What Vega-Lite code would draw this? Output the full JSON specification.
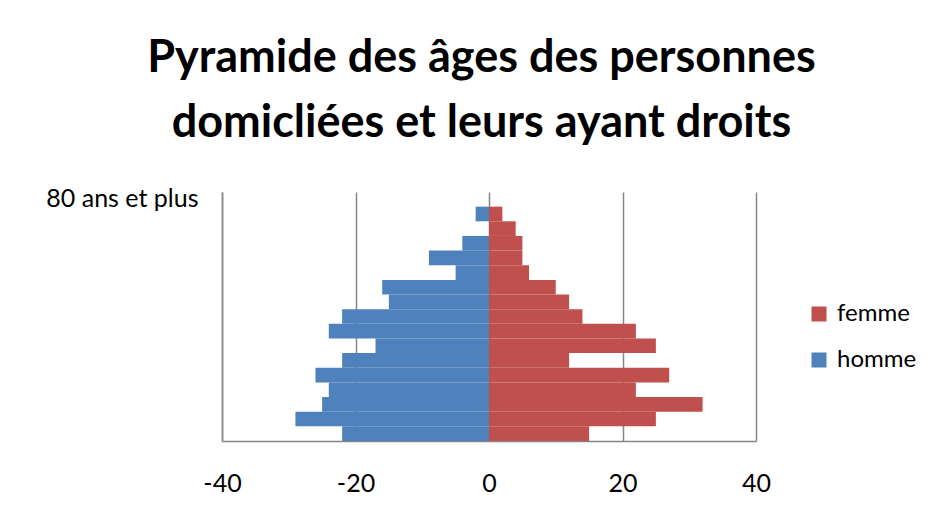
{
  "$schema": "https://vega.github.io/schema/vega-lite/v6.json",
  "width": 534,
  "height": 249,
  "autosize": {"type": "none"},
  "padding": {"left": 222, "top": 192, "right": 179, "bottom": 87},
  "background": "white",
  "title": {
    "text": ["Pyramide des âges des personnes", "domicliées et leurs ayant droits"],
    "font": "Lato",
    "fontSize": 45,
    "fontWeight": "bold",
    "color": "black",
    "lineHeight": 65,
    "anchor": "middle",
    "frame": "bounds",
    "offset": 41
  },
  "data": {
    "values": [
      {"age": "0 à 4 ans", "sexe": "homme", "valeur": -22},
      {"age": "0 à 4 ans", "sexe": "femme", "valeur": 15},
      {"age": "5 à 9 ans", "sexe": "homme", "valeur": -29},
      {"age": "5 à 9 ans", "sexe": "femme", "valeur": 25},
      {"age": "10 à 14 ans", "sexe": "homme", "valeur": -25},
      {"age": "10 à 14 ans", "sexe": "femme", "valeur": 32},
      {"age": "15 à 19 ans", "sexe": "homme", "valeur": -24},
      {"age": "15 à 19 ans", "sexe": "femme", "valeur": 22},
      {"age": "20 à 24 ans", "sexe": "homme", "valeur": -26},
      {"age": "20 à 24 ans", "sexe": "femme", "valeur": 27},
      {"age": "25 à 29 ans", "sexe": "homme", "valeur": -22},
      {"age": "25 à 29 ans", "sexe": "femme", "valeur": 12},
      {"age": "30 à 34 ans", "sexe": "homme", "valeur": -17},
      {"age": "30 à 34 ans", "sexe": "femme", "valeur": 25},
      {"age": "35 à 39 ans", "sexe": "homme", "valeur": -24},
      {"age": "35 à 39 ans", "sexe": "femme", "valeur": 22},
      {"age": "40 à 44 ans", "sexe": "homme", "valeur": -22},
      {"age": "40 à 44 ans", "sexe": "femme", "valeur": 14},
      {"age": "45 à 49 ans", "sexe": "homme", "valeur": -15},
      {"age": "45 à 49 ans", "sexe": "femme", "valeur": 12},
      {"age": "50 à 54 ans", "sexe": "homme", "valeur": -16},
      {"age": "50 à 54 ans", "sexe": "femme", "valeur": 10},
      {"age": "55 à 59 ans", "sexe": "homme", "valeur": -5},
      {"age": "55 à 59 ans", "sexe": "femme", "valeur": 6},
      {"age": "60 à 64 ans", "sexe": "homme", "valeur": -9},
      {"age": "60 à 64 ans", "sexe": "femme", "valeur": 5},
      {"age": "65 à 69 ans", "sexe": "homme", "valeur": -4},
      {"age": "65 à 69 ans", "sexe": "femme", "valeur": 5},
      {"age": "70 à 74 ans", "sexe": "homme", "valeur": 0},
      {"age": "70 à 74 ans", "sexe": "femme", "valeur": 4},
      {"age": "75 à 79 ans", "sexe": "homme", "valeur": -2},
      {"age": "75 à 79 ans", "sexe": "femme", "valeur": 2},
      {"age": "80 ans et plus", "sexe": "homme", "valeur": 0},
      {"age": "80 ans et plus", "sexe": "femme", "valeur": 0}
    ]
  },
  "mark": {"type": "bar"},
  "encoding": {
    "y": {
      "field": "age",
      "type": "nominal",
      "sort": ["80 ans et plus", "75 à 79 ans", "70 à 74 ans", "65 à 69 ans", "60 à 64 ans", "55 à 59 ans", "50 à 54 ans", "45 à 49 ans", "40 à 44 ans", "35 à 39 ans", "30 à 34 ans", "25 à 29 ans", "20 à 24 ans", "15 à 19 ans", "10 à 14 ans", "5 à 9 ans", "0 à 4 ans"],
      "scale": {"paddingInner": 0, "paddingOuter": 0},
      "axis": {
        "title": null,
        "values": ["80 ans et plus"],
        "ticks": false,
        "domain": true,
        "domainColor": "#868686",
        "domainWidth": 1.5,
        "labelFont": "Lato",
        "labelFontSize": 25,
        "labelColor": "black",
        "labelPadding": 24
      }
    },
    "x": {
      "field": "valeur",
      "type": "quantitative",
      "stack": null,
      "scale": {"domain": [-40, 40]},
      "axis": {
        "title": null,
        "values": [-40, -20, 0, 20, 40],
        "labelExpr": "datum.value + ''",
        "labelFlush": false,
        "grid": true,
        "gridColor": "#868686",
        "gridWidth": 1.5,
        "ticks": false,
        "domainColor": "#868686",
        "domainWidth": 1.5,
        "labelFont": "Lato",
        "labelFontSize": 25,
        "labelColor": "black",
        "labelPadding": 30
      }
    },
    "color": {
      "field": "sexe",
      "type": "nominal",
      "scale": {"domain": ["femme", "homme"], "range": ["#C0504D", "#4F81BD"]},
      "legend": {
        "title": null,
        "orient": "none",
        "legendX": 585,
        "legendY": 110,
        "symbolType": "square",
        "symbolSize": 225,
        "symbolStrokeWidth": 0,
        "labelFont": "Lato",
        "labelFontSize": 24,
        "labelColor": "black",
        "labelOffset": 6,
        "rowPadding": 22
      }
    }
  },
  "config": {"view": {"stroke": null}}
}
